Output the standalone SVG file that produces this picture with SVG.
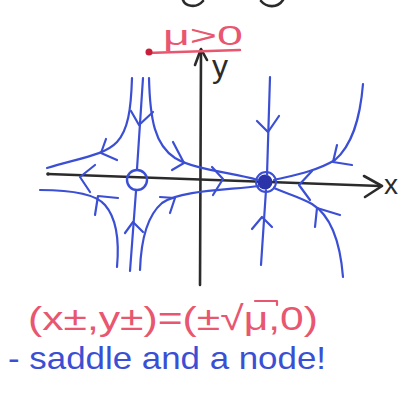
<svg xmlns="http://www.w3.org/2000/svg" width="407" height="395" viewBox="0 0 407 395">
<style>
.ax{stroke:#2b2b2b;stroke-width:2.6;fill:none;stroke-linecap:round;stroke-linejoin:round}
.b{stroke:#3b4fd4;stroke-width:2.2;fill:none;stroke-linecap:round;stroke-linejoin:round}
.hb{font-family:"Liberation Sans","DejaVu Sans",sans-serif}
.red{fill:#e8566f}
.blue{fill:#3b4fd4}
.blk{fill:#2b2b2b}
</style>
<rect width="407" height="395" fill="#ffffff"/>
<g id="top-ink">
<path class="ax" d="M183,0 C185,6 196,9 203,1"/>
<path class="ax" d="M261,1 C266,7 277,9 283,0"/>
</g>
<g id="axes">
<path class="ax" d="M48,174 L380,186"/>
<path class="ax" d="M364,176 L382,186 L365,197" stroke-width="4"/>
<circle cx="48" cy="174" r="1.8" fill="#2b2b2b"/>
<path class="ax" d="M200,285 L201,50"/>
<path class="ax" d="M195,65 L201,49 L207,60"/>
<text class="hb blk" x="212" y="77" font-size="32">y</text>
<text class="hb blk" x="384" y="194" font-size="28">x</text>
</g>
<g id="mu-label">
<text class="hb red" x="163" y="45" font-size="28" textLength="80" lengthAdjust="spacingAndGlyphs">μ&gt;0</text>
<path d="M147,53 L240,50" stroke="#e8566f" stroke-width="2.4" fill="none" stroke-linecap="round"/>
<circle cx="149" cy="52" r="3.5" fill="#c8203a"/>
</g>
<g id="saddle">
<circle cx="137" cy="180" r="10" fill="none" stroke="#3b4fd4" stroke-width="2.4"/>
</g>
<g id="node">
<circle cx="266" cy="182" r="10" fill="none" stroke="#3b4fd4" stroke-width="2"/>
<circle cx="265" cy="182" r="7.5" fill="#2a33a8"/>
</g>
<g id="connectors">
<path class="b" d="M143,78 L137,169"/>
<path class="b" d="M131,111 L139,125 L153,112"/>
<path class="b" d="M136,191 L130,271"/>
<path class="b" d="M125,233 L133,222 L143,232"/>
<path class="b" d="M132,78 C131,110 128,130 117,142 C105,155 80,158 47,168"/>
<path class="b" d="M106,139 L101,153 L117,160"/>
<path class="b" d="M149,78 C150,120 155,145 175,158 C195,170 230,172 258,180"/>
<path class="b" d="M173,142 L184,163 L172,170"/>
<path class="b" d="M40,190 C70,190 95,193 105,205 C118,220 119,245 117,267"/>
<path class="b" d="M95,215 L98,196 L118,198"/>
<path class="b" d="M140,270 C141,240 148,215 162,203 C180,190 230,190 259,186"/>
<path class="b" d="M160,197 L175,198 L170,213"/>
<path class="b" d="M95,165 L80,177 L90,192"/>
<path class="b" d="M212,167 L223,179 L213,195"/>
<path class="b" d="M270,77 L267,175"/>
<path class="b" d="M257,121 L268,132 L279,116"/>
<path class="b" d="M266,190 L261,265"/>
<path class="b" d="M252,229 L262,217 L272,227"/>
<path class="b" d="M363,84 C360,120 352,145 335,160 C315,172 290,176 274,180"/>
<path class="b" d="M337,145 L333,162 L352,165"/>
<path class="b" d="M343,277 C340,240 330,215 312,204 C300,197 285,193 274,188"/>
<path class="b" d="M315,227 L317,208 L340,215"/>
<path class="b" d="M312,171 L299,185 L310,200"/>
</g>
<g id="equation">
<text class="hb red" x="28" y="330" font-size="34" textLength="290" lengthAdjust="spacingAndGlyphs">(x±,y±)=(±√μ,0)</text>
<path d="M255,301 L277,301 L277,305" stroke="#e8566f" stroke-width="2.2" fill="none" stroke-linecap="round" stroke-linejoin="round"/>
</g>
<g id="caption">
<text class="hb blue" x="8" y="369" font-size="32" textLength="318" lengthAdjust="spacingAndGlyphs">- saddle and a node!</text>
</g>
</svg>
